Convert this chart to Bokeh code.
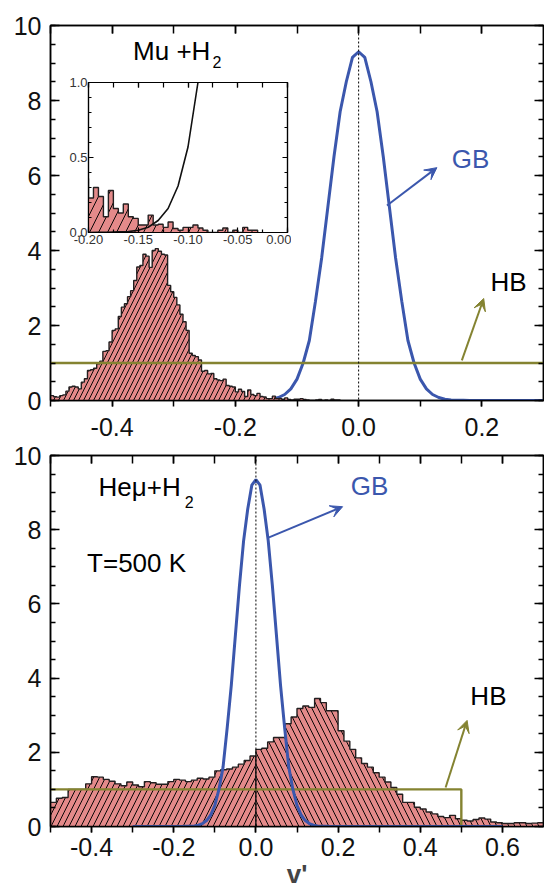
import numpy as np
from bokeh.plotting import figure
from bokeh.models import (Range1d, LinearAxis, SingleIntervalTicker, PrintfTickFormatter,
                          CustomJSTickFormatter, Span, Label, Arrow, VeeHead, GridBox)
from bokeh.embed import file_html
from bokeh.resources import INLINE

# ---------------- data ----------------
# Top panel (Mu + H2): histogram, bins of 0.005 starting at v' = -0.5
top_bin_start = -0.5
top_bin_width = 0.005
top_hist = [0.13, 0.10, 0.09, 0.13, 0.15, 0.25, 0.36, 0.38, 0.36, 0.31,
            0.49, 0.58, 0.80, 0.82, 0.86, 0.98, 1.05, 1.31, 1.33, 1.56,
            1.87, 1.91, 2.24, 2.49, 2.58, 2.77, 2.93, 3.20, 3.56, 3.60,
            3.90, 3.85, 3.55, 4.00, 4.05, 3.98, 3.90, 3.88, 3.07, 2.90,
            2.75, 2.55, 2.30, 2.10, 1.87, 1.26, 1.20, 1.17, 1.08, 0.78,
            0.80, 0.71, 0.72, 0.58, 0.55, 0.53, 0.57, 0.40, 0.38, 0.36,
            0.23, 0.30, 0.24, 0.105, 0.28, 0.16, 0.13, 0.19, 0.105, 0.094,
            0.05, 0.05, 0.116, 0.05, 0.055, 0.034, 0.07, 0.027, 0.015, 0.034,
            0.034, 0.05, 0.03, 0.015, 0.0, 0.0, 0.015, 0.03, 0.0, 0.015,
            0.0, 0.034, 0.015, 0.015]

# Bottom panel (Hemu + H2): histogram, bins of 1/70, split at v' = 0
bot_bin_width = 1.0 / 70.0
bot_left_start = -0.5
bot_hist_left = [0.65, 0.76, 0.78, 1.00, 1.00, 1.00, 1.15, 1.34, 1.33, 1.27,
                 1.22, 1.15, 1.10, 1.20, 1.12, 1.07, 1.21, 1.18, 1.14, 1.14,
                 1.21, 1.27, 1.25, 1.21, 1.25, 1.30, 1.28, 1.33, 1.50, 1.53,
                 1.55, 1.60, 1.68, 1.78, 1.90]
bot_right_start = 0.0
bot_hist_right = [2.08, 2.11, 2.28, 2.40, 2.40, 2.77, 2.95, 3.18, 3.25, 3.21,
                  3.45, 3.34, 3.12, 3.12, 2.58, 2.30, 2.08, 1.85, 1.70, 1.60,
                  1.45, 1.33, 1.20, 1.05, 0.87, 0.65, 0.65, 0.52, 0.47, 0.39,
                  0.34, 0.27, 0.24, 0.30, 0.21, 0.17, 0.15, 0.19, 0.23, 0.20,
                  0.12, 0.10, 0.08, 0.08, 0.10, 0.10, 0.08, 0.09, 0.10]

# GB curves (read at 0.01 steps)
gb_top_x = np.round(np.linspace(-0.20, 0.30, 51), 2)
gb_top_y = [0.0, 0.001, 0.002, 0.004, 0.006, 0.015, 0.035, 0.08, 0.16, 0.31,
            0.57, 1.0, 1.6, 2.65, 3.8, 5.15, 6.5, 7.7, 8.5, 9.15,
            9.3,
            9.15, 8.5, 7.7, 6.5, 5.15, 3.8, 2.65, 1.6, 1.0, 0.57,
            0.31, 0.16, 0.08, 0.035, 0.015, 0.006, 0.004, 0.002, 0.001, 0.0,
            0.0, 0.0, 0.0, 0.0, 0.0, 0.0, 0.0, 0.0, 0.0, 0.0]

gb_bot_x = np.round(np.linspace(-0.30, 0.60, 91), 2)
gb_bot_y = ([0.0] * 10 +
            [0.0, 0.001, 0.002, 0.004, 0.006, 0.015, 0.035, 0.08, 0.16, 0.31,
             0.57, 1.0, 1.6, 2.65, 3.8, 5.15, 6.5, 7.7, 8.55, 9.2,
             9.35,
             9.2, 8.55, 7.7, 6.5, 5.15, 3.8, 2.65, 1.6, 1.0, 0.57,
             0.31, 0.16, 0.08, 0.035, 0.015, 0.006, 0.004, 0.002, 0.001, 0.0] +
            [0.0] * 40)

# HB curves
hb_top_x = [-0.5, 0.3]
hb_top_y = [1.0, 1.0]
hb_bot_x = [-0.5, 0.5, 0.5]
hb_bot_y = [1.0, 1.0, 0.0]

# ---------------- style ----------------
FONT = "Liberation Sans"
BLUE = "#3b57ad"
OLIVE = "#848331"
PINK = "#e48a8a"
OUTLINE = "#231f20"
TICK_FS = 25
NO_LABELS = CustomJSTickFormatter(code="return ''")


def make_fig(w, h, xr, yr, left, right, top, bottom, transparent=False):
    p = figure(width=w, height=h, x_range=Range1d(*xr), y_range=Range1d(*yr),
               output_backend="svg", toolbar_location=None, tools="",
               min_border_left=left, min_border_right=right,
               min_border_top=top, min_border_bottom=bottom)
    p.xgrid.visible = False
    p.ygrid.visible = False
    p.outline_line_color = "black"
    p.outline_line_width = 1.5
    p.outline_line_alpha = 1.0
    if transparent:
        p.background_fill_alpha = 0
        p.border_fill_alpha = 0
    else:
        p.background_fill_color = "white"
        p.border_fill_color = "white"
    return p


def style_axis(ax, ticker, fmt, fs, standoff, mj_in, mj_out, mn_in, mn_out,
               labels=True, lw=1.5):
    ax.ticker = ticker
    ax.axis_line_color = "black"
    ax.axis_line_width = lw
    ax.major_tick_line_color = "black"
    ax.major_tick_line_width = lw
    ax.minor_tick_line_color = "black"
    ax.minor_tick_line_width = lw
    ax.major_tick_in = mj_in
    ax.major_tick_out = mj_out
    ax.minor_tick_in = mn_in
    ax.minor_tick_out = mn_out
    ax.major_label_text_font = FONT
    ax.major_label_text_color = "#111111"
    if labels:
        ax.formatter = PrintfTickFormatter(format=fmt)
        ax.major_label_text_font_size = f"{fs}px"
        ax.major_label_standoff = standoff
    else:
        ax.formatter = NO_LABELS
        ax.major_label_text_font_size = "10px"
        ax.major_label_standoff = 0


def add_hist(p, start, width, vals, hatch, scale):
    n = len(vals)
    edges = start + width * np.arange(n + 1)
    y2 = list(vals) + [vals[-1]]
    p.varea_step(x=edges, y1=np.zeros(n + 1), y2=y2, step_mode="after",
                 fill_color=PINK, fill_alpha=1.0,
                 hatch_pattern=hatch, hatch_color="black", hatch_scale=scale,
                 hatch_weight=1.0, hatch_alpha=0.95)
    ox = np.concatenate([[edges[0]], edges])
    oy = [0.0] + list(vals) + [0.0]
    p.step(x=ox, y=oy, mode="after", line_color=OUTLINE, line_width=1.4)


def text(p, x, y, s, fs=26, color="black"):
    p.add_layout(Label(x=x, y=y, text=s, text_font=FONT, text_font_size=f"{fs}px",
                       text_color=color, text_baseline="middle", text_align="left"))


def arrow(p, x0, y0, x1, y1, color):
    p.add_layout(Arrow(end=VeeHead(size=12, fill_color=color, line_color=color),
                       x_start=x0, y_start=y0, x_end=x1, y_end=y1,
                       line_color=color, line_width=2))


def mirror_axes(p, xt, yt, x_in, y_in, y_minor_in, lw=1.5):
    top_ax = LinearAxis()
    style_axis(top_ax, xt, None, 0, 0, x_in, 0, x_in, 0, labels=False, lw=lw)
    p.add_layout(top_ax, "above")
    right_ax = LinearAxis()
    style_axis(right_ax, yt, None, 0, 0, y_in, 0, y_minor_in, 0, labels=False, lw=lw)
    p.add_layout(right_ax, "right")


# ---------------- top panel ----------------
top = make_fig(544, 440, (-0.5, 0.3), (0, 10), 50, 1, 25, 40)
top_x, top_y = top.xaxis[0], top.yaxis[0]
xt_top = SingleIntervalTicker(interval=0.2, num_minor_ticks=2)
yt_top = SingleIntervalTicker(interval=2, num_minor_ticks=4)
style_axis(top_x, xt_top, "%.1f", TICK_FS, 11, 0, 6, 0, 6)
style_axis(top_y, yt_top, "%d", TICK_FS, 9, 9, 0, 5, 0)
mirror_axes(top, xt_top, yt_top, 8, 9, 5)

top.add_layout(Span(location=0, dimension="height", line_color="black",
                    line_dash="2 2", line_width=1))
top.line(gb_top_x, gb_top_y, line_color=BLUE, line_width=3)
add_hist(top, top_bin_start, top_bin_width, top_hist, "/", 10)
top.line(hb_top_x, hb_top_y, line_color=OLIVE, line_width=2.4)

text(top, -0.366, 9.33, "Mu +H")
text(top, -0.237, 9.02, "2", fs=16)
text(top, 0.151, 6.45, "GB", color=BLUE)
text(top, 0.214, 3.15, "HB")
arrow(top, 0.046, 5.2, 0.127, 6.21, BLUE)
arrow(top, 0.1675, 1.07, 0.203, 2.72, OLIVE)

# ---------------- inset ----------------
inset = make_fig(227, 176, (-0.2, 0.0), (0, 1.0), 24, 4, 8, 18, transparent=True)
in_x, in_y = inset.xaxis[0], inset.yaxis[0]
xt_in = SingleIntervalTicker(interval=0.05, num_minor_ticks=2)
yt_in = SingleIntervalTicker(interval=0.5, num_minor_ticks=5)
style_axis(in_x, xt_in, "%.2f", 13, 2, 5, 0, 3, 0, lw=1.2)
style_axis(in_y, yt_in, "%.1f", 13, 1, 5, 0, 3, 0, lw=1.2)
in_x.major_label_text_color = "#333333"
in_y.major_label_text_color = "#333333"
mirror_axes(inset, xt_in, yt_in, 5, 5, 3, lw=1.2)
inset.outline_line_width = 1.2
add_hist(inset, top_bin_start, top_bin_width, top_hist, "/", 18)
inset.line(gb_top_x, gb_top_y, line_color="#111111", line_width=1.6)

# ---------------- bottom panel ----------------
bot = make_fig(544, 451, (-0.5, 0.7), (0, 10), 50, 1, 15, 63)
bot_x, bot_y = bot.xaxis[0], bot.yaxis[0]
xt_bot = SingleIntervalTicker(interval=0.2, num_minor_ticks=2)
yt_bot = SingleIntervalTicker(interval=2, num_minor_ticks=4)
style_axis(bot_x, xt_bot, "%.1f", TICK_FS, 5, 0, 6, 0, 6)
style_axis(bot_y, yt_bot, "%d", TICK_FS, 9, 9, 0, 5, 0)
bot_x.axis_label = "v'"
bot_x.axis_label_text_font = FONT
bot_x.axis_label_text_font_size = "26px"
bot_x.axis_label_text_font_style = "bold"
bot_x.axis_label_standoff = 0
mirror_axes(bot, xt_bot, yt_bot, 8, 9, 5)

bot.add_layout(Span(location=0, dimension="height", line_color="black",
                    line_dash="2 2", line_width=1))
add_hist(bot, bot_left_start, bot_bin_width, bot_hist_left, "/", 12)
add_hist(bot, bot_right_start, bot_bin_width, bot_hist_right, "\\", 12)
bot.line(hb_bot_x, hb_bot_y, line_color=OLIVE, line_width=2.4)
bot.line(gb_bot_x, gb_bot_y, line_color=BLUE, line_width=3)

text(bot, -0.383, 9.16, "Heμ+H")
text(bot, -0.173, 8.76, "2", fs=16)
text(bot, -0.411, 7.09, "T=500 K")
text(bot, 0.231, 9.19, "GB", color=BLUE)
text(bot, 0.522, 3.52, "HB")
arrow(bot, 0.029, 7.78, 0.211, 8.62, BLUE)
arrow(bot, 0.4617, 1.05, 0.514, 2.86, OLIVE)

layout = GridBox(children=[(top, 0, 0, 3, 3), (inset, 1, 1, 1, 1), (bot, 3, 0, 1, 3)],
                 rows=["74px", "176px", "190px", "451px"],
                 cols=["64px", "227px", "253px"])

open("out.html", "w").write(file_html(layout, INLINE))
